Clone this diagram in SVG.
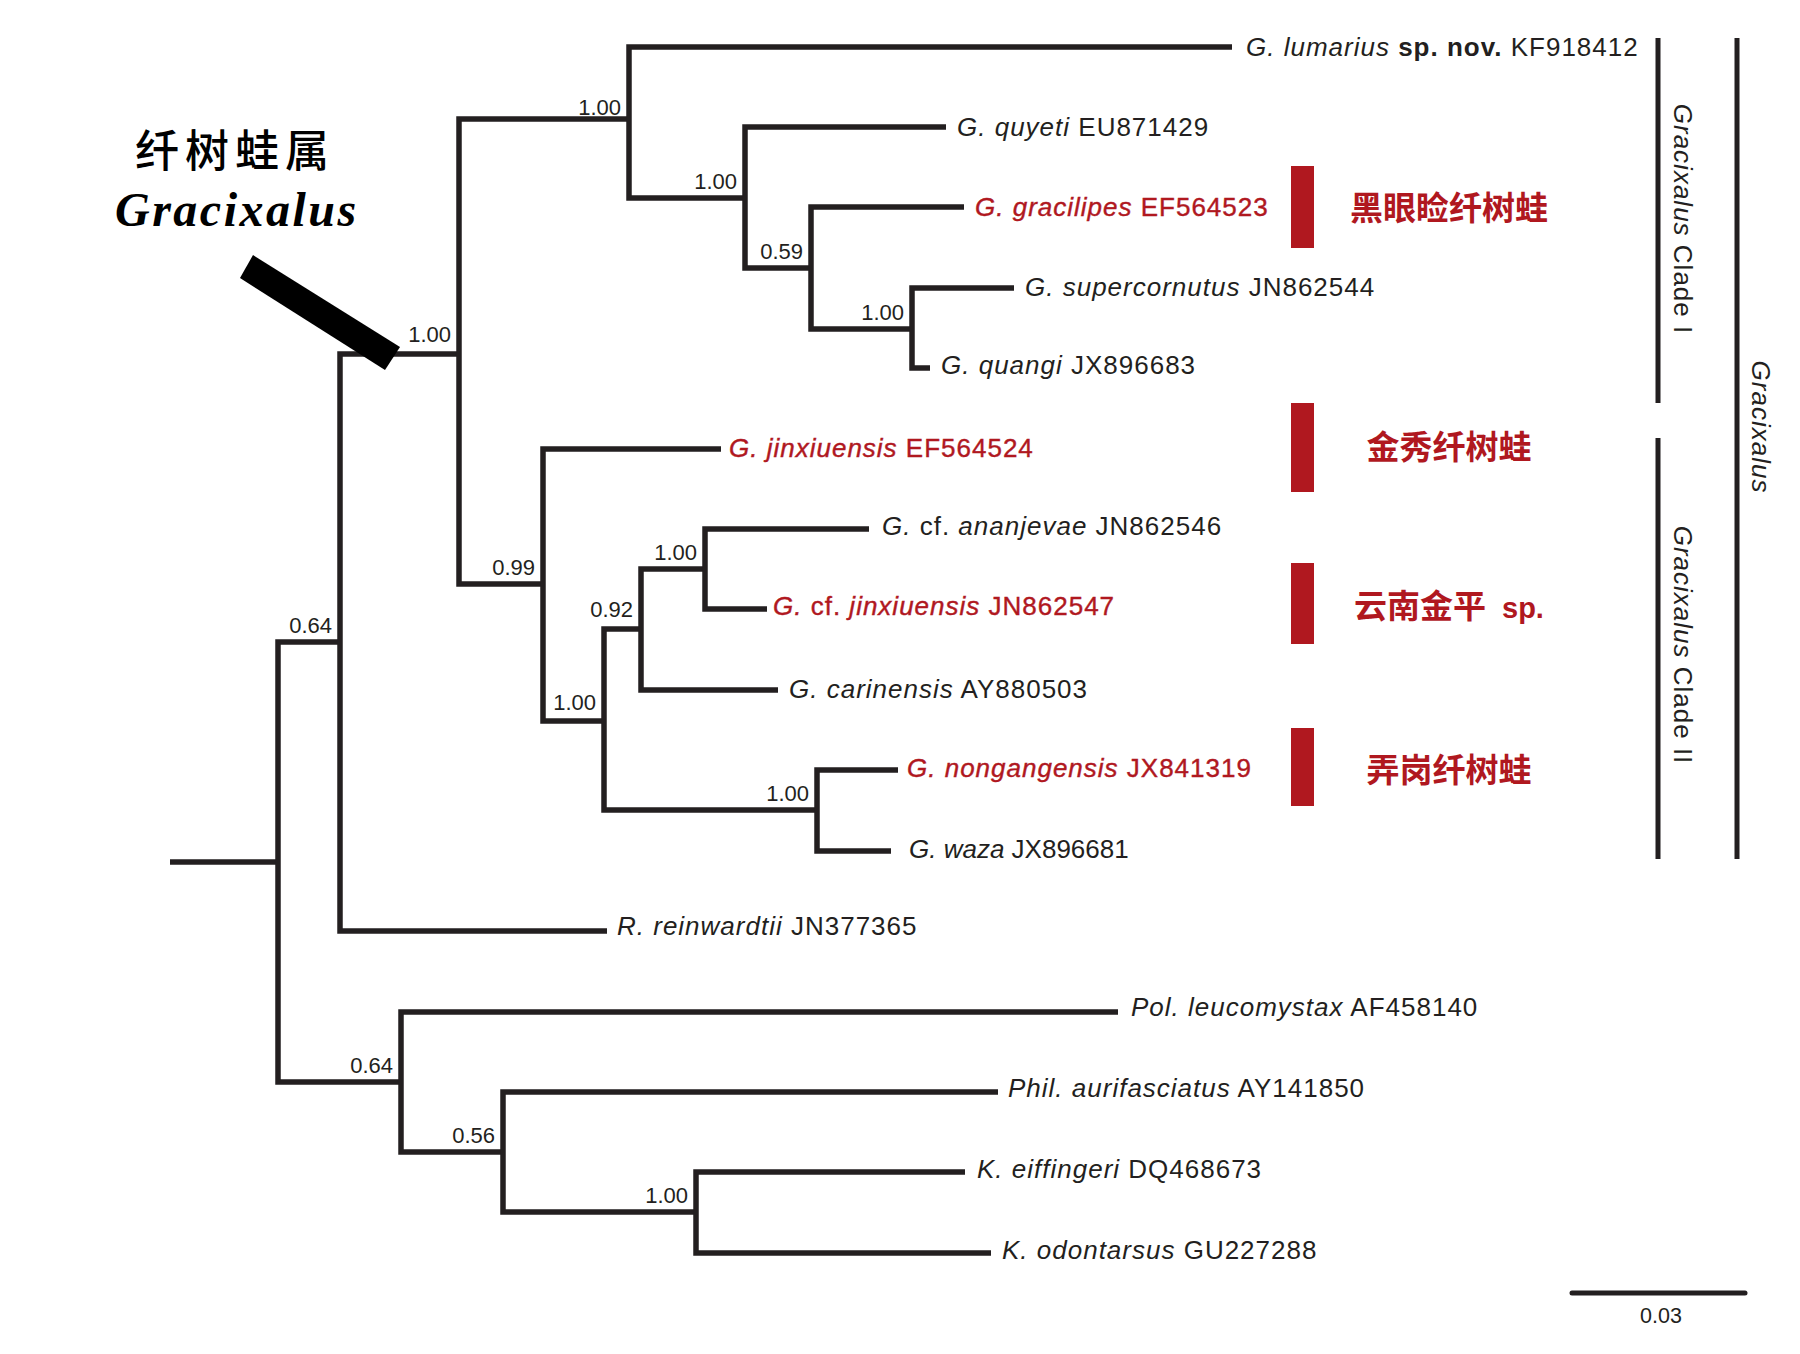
<svg xmlns="http://www.w3.org/2000/svg" width="1800" height="1354" viewBox="0 0 1800 1354">
<style>
.br{fill:none;stroke:#231f20;stroke-width:5.5;stroke-linejoin:miter;stroke-linecap:butt}
.bar{fill:none;stroke:#231f20;stroke-width:5}
.tx{font-family:"Liberation Sans",Arial,sans-serif;font-size:26px;fill:#231f20;letter-spacing:1px}
.red{fill:#b0181f;stroke:#b0181f;stroke-width:0.4}
.it{font-style:italic}
.b{font-weight:bold}
.sup{font-family:"Liberation Sans",Arial,sans-serif;font-size:22px;fill:#231f20;text-anchor:end}
.cn{font-family:"Noto Sans CJK SC",sans-serif;font-weight:bold;font-size:33px;fill:#b0181f;text-anchor:middle}
.rb{fill:#b0181f}
.side{font-family:"Liberation Sans",Arial,sans-serif;font-size:26px;fill:#231f20;letter-spacing:1px;text-anchor:middle}
</style>
<rect width="1800" height="1354" fill="#ffffff"/>

<g id="connectors">
<path class="br" d="M170 862 H278"/>
<path class="br" d="M340 642 H278 V1082 H401"/>
<path class="br" d="M459 354 H340 V931 H607"/>
<path class="br" d="M629 119 H459 V584 H543"/>
<path class="br" d="M1232 47 H629 V198 H745"/>
<path class="br" d="M946 127 H745 V268 H811"/>
<path class="br" d="M964 207 H811 V329 H912"/>
<path class="br" d="M1014 288 H912 V368 H930"/>
<path class="br" d="M721 449 H543 V721 H604"/>
<path class="br" d="M641 629 H604 V810 H817"/>
<path class="br" d="M705 569 H641 V690 H778"/>
<path class="br" d="M869 529 H705 V609 H767"/>
<path class="br" d="M898 770 H817 V851 H891"/>
<path class="br" d="M1118 1012 H401 V1152 H503"/>
<path class="br" d="M998 1092 H503 V1212 H696"/>
<path class="br" d="M965 1172 H696 V1253 H991"/>
</g>

<g id="support-values">
<text class="sup" x="332" y="633">0.64</text>
<text class="sup" x="451" y="342">1.00</text>
<text class="sup" x="621" y="115">1.00</text>
<text class="sup" x="737" y="189">1.00</text>
<text class="sup" x="803" y="259">0.59</text>
<text class="sup" x="904" y="320">1.00</text>
<text class="sup" x="535" y="575">0.99</text>
<text class="sup" x="596" y="710">1.00</text>
<text class="sup" x="633" y="617">0.92</text>
<text class="sup" x="697" y="560">1.00</text>
<text class="sup" x="809" y="801">1.00</text>
<text class="sup" x="393" y="1073">0.64</text>
<text class="sup" x="495" y="1143">0.56</text>
<text class="sup" x="688" y="1203">1.00</text>
</g>

<g id="taxon-lumarius"><text class="tx" x="1246" y="56"><tspan class="it">G. lumarius</tspan> <tspan class="b">sp. nov.</tspan> KF918412</text></g>
<g id="taxon-quyeti"><text class="tx" x="957" y="136"><tspan class="it">G. quyeti</tspan> EU871429</text></g>
<g id="taxon-gracilipes"><text class="tx red" x="975" y="216"><tspan class="it">G. gracilipes</tspan> EF564523</text></g>
<g id="taxon-supercornutus"><text class="tx" x="1025" y="296"><tspan class="it">G. supercornutus</tspan> JN862544</text></g>
<g id="taxon-quangi"><text class="tx" x="941" y="374"><tspan class="it">G. quangi</tspan> JX896683</text></g>
<g id="taxon-jinxiuensis"><text class="tx red" x="729" y="457"><tspan class="it">G. jinxiuensis</tspan> EF564524</text></g>
<g id="taxon-ananjevae"><text class="tx" x="882" y="535"><tspan class="it">G.</tspan> cf. <tspan class="it">ananjevae</tspan> JN862546</text></g>
<g id="taxon-cf-jinxiuensis"><text class="tx red" x="773" y="615"><tspan class="it">G.</tspan> cf. <tspan class="it">jinxiuensis</tspan> JN862547</text></g>
<g id="taxon-carinensis"><text class="tx" x="789" y="698"><tspan class="it">G. carinensis</tspan> AY880503</text></g>
<g id="taxon-nongangensis"><text class="tx red" x="907" y="777"><tspan class="it">G. nongangensis</tspan> JX841319</text></g>
<g id="taxon-waza"><text class="tx" x="909" y="858" style="letter-spacing:0"><tspan class="it">G. waza</tspan> JX896681</text></g>
<g id="taxon-reinwardtii"><text class="tx" x="617" y="935"><tspan class="it">R. reinwardtii</tspan> JN377365</text></g>
<g id="taxon-leucomystax"><text class="tx" x="1131" y="1016"><tspan class="it">Pol. leucomystax</tspan> AF458140</text></g>
<g id="taxon-aurifasciatus"><text class="tx" x="1008" y="1097"><tspan class="it">Phil. aurifasciatus</tspan> AY141850</text></g>
<g id="taxon-eiffingeri"><text class="tx" x="977" y="1178"><tspan class="it">K. eiffingeri</tspan> DQ468673</text></g>
<g id="taxon-odontarsus"><text class="tx" x="1002" y="1259"><tspan class="it">K. odontarsus</tspan> GU227288</text></g>

<g id="mark-gracilipes"><rect class="rb" x="1291" y="166" width="23" height="82"/><text class="cn" x="1449" y="220">黑眼睑纤树蛙</text></g>
<g id="mark-jinxiuensis"><rect class="rb" x="1291" y="403" width="23" height="89"/><text class="cn" x="1449" y="459">金秀纤树蛙</text></g>
<g id="mark-jinping"><rect class="rb" x="1291" y="563" width="23" height="81"/><text class="cn" x="1354" y="618" style="text-anchor:start">云南金平<tspan x="1502" style="font-family:'Liberation Sans',Arial,sans-serif;font-size:29px">sp.</tspan></text></g>
<g id="mark-nongangensis"><rect class="rb" x="1291" y="728" width="23" height="78"/><text class="cn" x="1449" y="782">弄岗纤树蛙</text></g>

<g id="clade-I"><path class="bar" d="M1658 38 V403"/><text class="side" transform="translate(1674 219) rotate(90)"><tspan class="it">Gracixalus</tspan> Clade I</text></g>
<g id="clade-II"><path class="bar" d="M1658 438 V859"/><text class="side" transform="translate(1674 645) rotate(90)"><tspan class="it">Gracixalus</tspan> Clade II</text></g>
<g id="genus-bar"><path class="bar" d="M1737 38 V859"/><text class="side it" transform="translate(1752 427) rotate(90)">Gracixalus</text></g>

<g id="genus-label">
<text x="135" y="167" style="font-family:'Noto Sans CJK SC',sans-serif;font-size:44px;font-weight:500;letter-spacing:6px;fill:#000">纤树蛙属</text>
<text x="115" y="226" style="font-family:'Liberation Serif','Times New Roman',serif;font-size:48px;font-weight:bold;font-style:italic;letter-spacing:2.5px;fill:#000">Gracixalus</text>
<polygon points="253,255 400,347 385,370 240,278" fill="#000"/>
</g>

<g id="scale-bar">
<path d="M1572 1293 H1745" stroke="#231f20" stroke-width="5" stroke-linecap="round"/>
<text x="1661" y="1323" style="font-family:'Liberation Sans',Arial,sans-serif;font-size:21.5px;fill:#231f20;text-anchor:middle">0.03</text>
</g>
</svg>
